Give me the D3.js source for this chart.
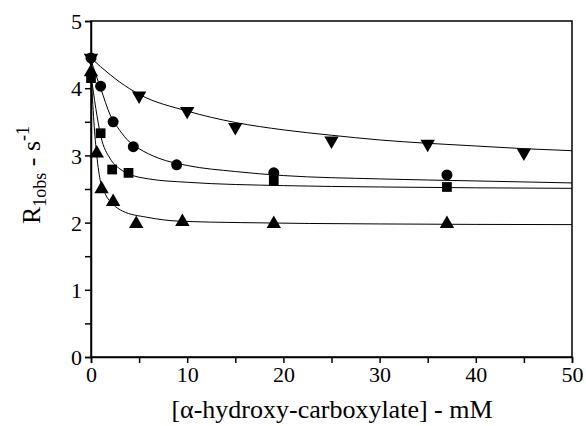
<!DOCTYPE html>
<html>
<head>
<meta charset="utf-8">
<script src="https://cdn.jsdelivr.net/npm/d3@7"></script>
<style>
  body { margin: 0; background: #fff; }
</style>
</head>
<body>
<div id="chart"></div>
<script>
// measured points (x in mM, y in s^-1)
const downTriX = [0, 5, 10, 15, 25, 35, 45];
const downTriY = [4.45, 3.89, 3.66, 3.42, 3.22, 3.17, 3.04];
const circleX = [0, 1, 2.3, 4.4, 8.9, 19, 37];
const circleY = [4.45, 4.03, 3.5, 3.13, 2.86, 2.74, 2.71];
const squareX = [0, 1, 2.2, 3.9, 19, 37];
const squareY = [4.15, 3.33, 2.79, 2.74, 2.62, 2.53];
const upTriX = [0, 0.6, 1.1, 2.3, 4.7, 9.5, 19, 37];
const upTriY = [4.24, 3.03, 2.5, 2.31, 1.98, 2.01, 1.98, 1.98];

// fitted curves
const downFitX = [0, 1, 2, 3, 5, 10, 15, 20, 25, 30, 35, 40, 45, 50];
const downFitY = [4.45, 4.32, 4.2, 4.09, 3.91, 3.66, 3.49, 3.38, 3.3, 3.23, 3.18, 3.14, 3.1, 3.07];
const circFitX = [0, 0.5, 1, 2, 3, 4, 5, 7, 10, 15, 20, 30, 40, 50];
const circFitY = [4.42, 4.2, 4.0, 3.6, 3.37, 3.2, 3.1, 2.96, 2.85, 2.76, 2.7, 2.65, 2.62, 2.59];
const sqFitX = [0, 0.5, 1, 2, 3, 4, 6, 10, 20, 30, 50];
const sqFitY = [4.2, 3.7, 3.3, 2.95, 2.8, 2.72, 2.65, 2.6, 2.55, 2.53, 2.51];
const triFitX = [0, 0.3, 0.6, 1, 1.5, 2.3, 3.3, 5.8, 9.3, 15.5, 30, 50];
const triFitY = [4.25, 3.5, 3.0, 2.6, 2.42, 2.27, 2.17, 2.08, 2.02, 2.0, 1.98, 1.97];

const xTicks = [0, 10, 20, 30, 40, 50];
const yTicks = [0, 1, 2, 3, 4, 5];

const FONT = "'Liberation Serif', 'DejaVu Serif', serif";
const W = 586, H = 426;
const margin = {left: 91, right: 14, top: 21, bottom: 69};

const svg = d3.select("#chart").append("svg")
    .attr("width", W)
    .attr("height", H);

const x = d3.scaleLinear().domain([0, 50]).range([margin.left, W - margin.right]);
const y = d3.scaleLinear().domain([0, 5]).range([H - margin.bottom, margin.top]);

// frame
svg.append("rect")
    .attr("x", x(0)).attr("y", y(5))
    .attr("width", x(50) - x(0)).attr("height", y(0) - y(5))
    .attr("fill", "none").attr("stroke", "#000").attr("stroke-width", 1.5);

// x axis
const xAxis = svg.append("g")
    .attr("transform", "translate(0," + y(0) + ")")
    .call(d3.axisBottom(x).tickValues(d3.range(0, 51, 5)).tickSize(6).tickFormat(d => xTicks.includes(d) ? d : ""));
xAxis.attr("font-family", FONT).attr("font-size", 22);
xAxis.select(".domain").attr("stroke-width", 1.5);
xAxis.selectAll(".tick line").attr("stroke-width", 1.5);
xAxis.selectAll("text").attr("y", 8).attr("dy", "0.75em");

// y axis
const yAxis = svg.append("g")
    .attr("transform", "translate(" + x(0) + ",0)")
    .call(d3.axisLeft(y).tickValues(d3.range(0, 5.01, 0.5)).tickSize(6).tickFormat(d => yTicks.includes(d) ? d : ""));
yAxis.attr("font-family", FONT).attr("font-size", 22);
yAxis.select(".domain").attr("stroke-width", 1.5);
yAxis.selectAll(".tick line").attr("stroke-width", 1.5);
yAxis.selectAll("text").attr("x", -9).attr("dy", "0.35em");

// fitted lines
const line = d3.line().x(d => x(d[0])).y(d => y(d[1])).curve(d3.curveMonotoneX);
[[downFitX, downFitY], [circFitX, circFitY], [sqFitX, sqFitY], [triFitX, triFitY]].forEach(s => {
    svg.append("path")
        .datum(s[0].map((v, i) => [v, s[1][i]]))
        .attr("d", line)
        .attr("fill", "none")
        .attr("stroke", "#000")
        .attr("stroke-width", 1);
});

// markers
function markers(xs, ys, type, size, rot) {
    svg.append("g").selectAll("path")
        .data(xs.map((v, i) => [v, ys[i]]))
        .enter()
        .append("path")
        .attr("d", d3.symbol().type(type).size(size))
        .attr("transform", d => "translate(" + x(d[0]) + "," + y(d[1]) + ") rotate(" + rot + ")")
        .attr("fill", "#000");
}
markers(downTriX, downTriY, d3.symbolTriangle, 90, 180);
markers(circleX, circleY, d3.symbolCircle, 95, 0);
markers(squareX, squareY, d3.symbolSquare, 95, 0);
markers(upTriX, upTriY, d3.symbolTriangle, 90, 0);

// axis titles
svg.append("text")
    .attr("x", 332).attr("y", 418)
    .attr("text-anchor", "middle")
    .attr("font-family", FONT)
    .attr("font-size", 26)
    .text("[\u03b1-hydroxy-carboxylate] - mM");

const yt = svg.append("text")
    .attr("transform", "translate(40,175) rotate(-90)")
    .attr("text-anchor", "middle")
    .attr("font-family", FONT)
    .attr("font-size", 26);
yt.append("tspan").text("R");
yt.append("tspan").attr("dy", 6).attr("font-size", 18).text("1obs");
yt.append("tspan").attr("dy", -6).text(" - s");
yt.append("tspan").attr("dy", -11).attr("font-size", 18).text("-1");
</script>
</body>
</html>
